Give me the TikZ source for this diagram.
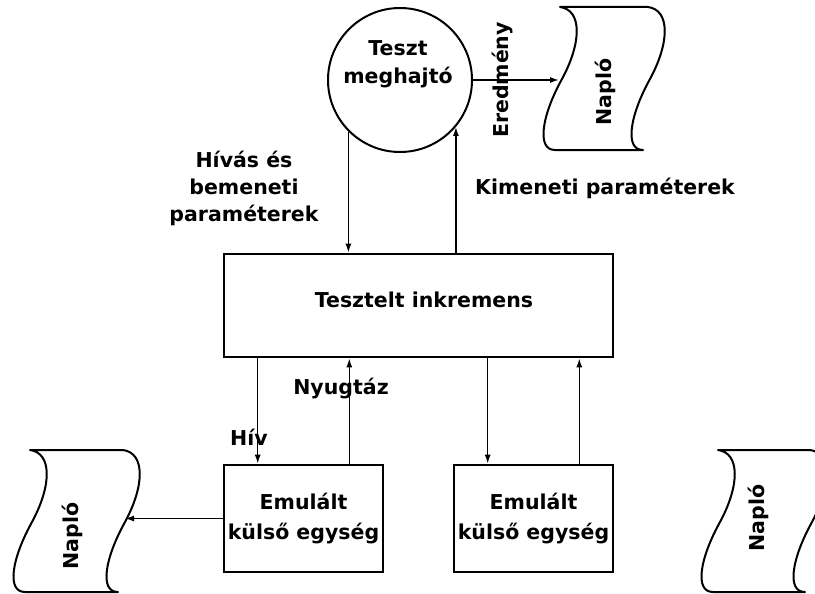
\documentclass[tikz,border=0pt]{standalone}
\usepackage{fontspec}
\setmainfont{DejaVu Sans}
\usetikzlibrary{arrows.meta}
\newcommand{\drawtape}[4]{%
  \begin{scope}[shift={(#1,#2)}]
    \draw[tapeline] (0,0) -- (#3,0)
      .. controls ({#3+22},3) and ({#3+22},35) .. ({#3+2},72)
      .. controls ({#3-18},108) and ({#3-24},#4) .. ({#3-5},#4)
      -- (-5,#4)
      .. controls (-24,#4) and (-18,108) .. (2,72)
      .. controls (22,35) and (22,3) .. (0,0) -- cycle;
  \end{scope}}
\begin{document}
\begin{tikzpicture}[x=1pt,y=-1pt,
  font=\bfseries\fontsize{20.5}{27}\selectfont,
  boxnode/.style={draw, line width=2.6pt, inner sep=0pt, align=center},
  arr/.style={line width=1.5pt, -{Latex[length=9pt,width=6pt]}},
  tapeline/.style={line width=2pt, line join=round},
  lbl/.style={align=center, inner sep=0pt}]
\useasboundingbox (0,0) rectangle (815,594);
\clip (0,0) rectangle (815,594);

% tapes
\drawtape{560}{7}{88}{143}
\drawtape{30}{450}{93}{142}
\drawtape{718}{450}{92}{142}
\node[lbl, rotate=90] (logtop) at (605,92) {Napló};
\node[lbl, rotate=90] (logleft) at (72,536) {Napló};
\node[lbl, rotate=90] (logright) at (758,518) {Napló};
\coordinate (logtopin) at (559,80);
\coordinate (logleftin) at (125,518.5);

% test driver
\node[draw, circle, line width=2pt, minimum size=144pt, inner sep=0pt] (circ) at (400,80) {};
\node[lbl, font=\bfseries\fontsize{20.5}{28}\selectfont] (drv) at (398,64) {Teszt\\meghajtó};

% main box
\node[boxnode, minimum width=389pt, minimum height=103pt] (main) at (418.5,305.5) {};
\node[lbl] (maintxt) at (424,300) {Tesztelt inkremens};

% lower boxes
\node[boxnode, minimum width=159pt, minimum height=107pt,
      font=\bfseries\fontsize{20.5}{30}\selectfont] (b1) at (303.5,518.5) {Emulált\\külső egység};
\node[boxnode, minimum width=159pt, minimum height=107pt,
      font=\bfseries\fontsize{20.5}{30}\selectfont] (b2) at (533.5,518.5) {Emulált\\külső egység};

% connectors circle <-> main
\draw[arr] (circ.225) -- (circ.225 |- main.north);
\draw[arr] (circ.320 |- main.north) -- (circ.320);
\draw[arr] (circ.east) -- (logtopin);

% main <-> lower boxes
\coordinate (p1) at ([xshift=35pt]b1.north west);
\coordinate (p2) at ([xshift=-35pt]b1.north east);
\coordinate (p3) at ([xshift=35pt]b2.north west);
\coordinate (p4) at ([xshift=-35pt]b2.north east);
\draw[arr] (p1 |- main.south) -- (p1);
\draw[arr] (p2) -- (p2 |- main.south);
\draw[arr] (p3 |- main.south) -- (p3);
\draw[arr] (p4) -- (p4 |- main.south);
\draw[arr] (b1.west) -- (logleftin);

% labels
\node[lbl, rotate=90] (ered) at (503,80) {Eredmény};
\node[lbl] (hivas) at (244,188) {Hívás és\\bemeneti\\paraméterek};
\node[lbl] (kimen) at (605,188) {Kimeneti paraméterek};
\node[lbl] (nyug) at (341,389) {Nyugtáz};
\node[lbl] (hiv) at (249,437) {Hív};
\end{tikzpicture}
\end{document}
